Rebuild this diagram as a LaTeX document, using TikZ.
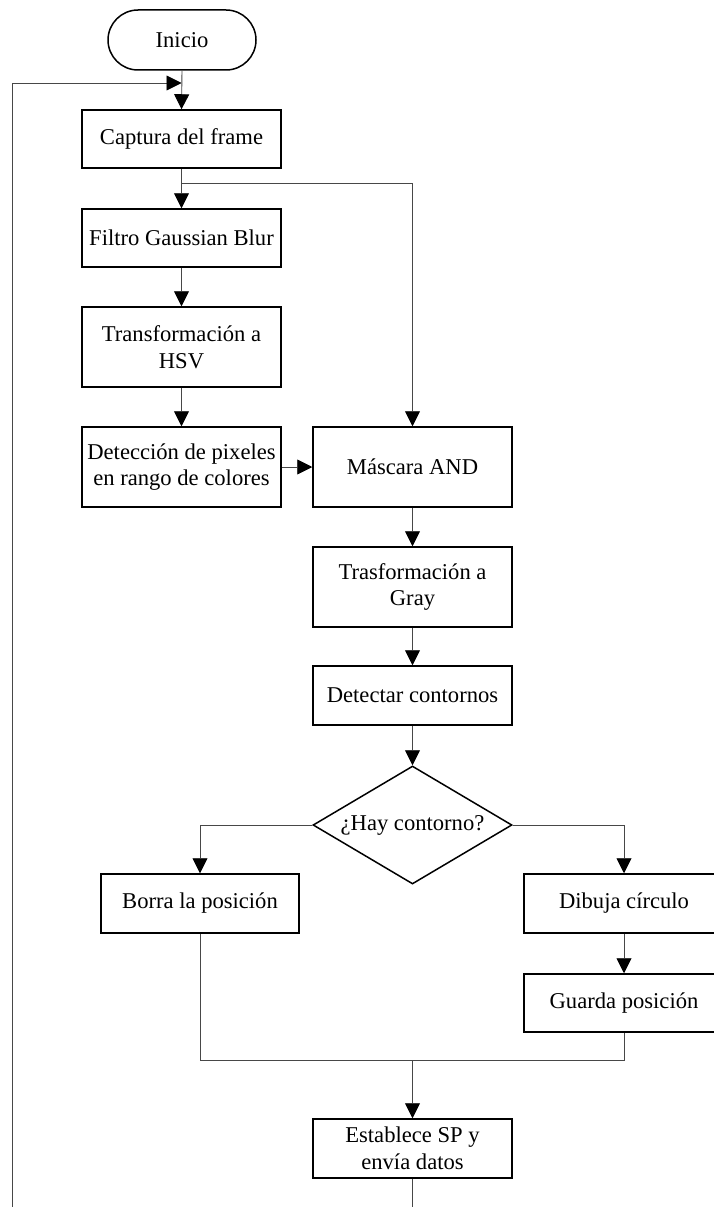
\documentclass[tikz,border=0pt]{standalone}
\usepackage{fontspec}
\setmainfont{Liberation Serif}
\usetikzlibrary{arrows.meta,shapes.geometric}

\tikzset{
  every node/.style={font=\fontsize{22.6}{26.5}\selectfont, align=center, text=black},
  stepbox/.style={draw=black, line width=1.5pt, fill=white, minimum width=199pt, inner sep=0pt},
  termbox/.style={draw=black, line width=1.5pt, fill=white, minimum width=148pt, minimum height=60pt, rounded corners=30pt, inner sep=0pt},
  decbox/.style={draw=black, line width=1.5pt, fill=white, diamond, aspect=1.69, minimum width=199pt, minimum height=118pt, inner sep=0pt},
  flow/.style={draw=black!72, line width=0.9pt},
  flowarrow/.style={flow, -{Triangle[width=15pt,length=15pt,color=black]}},
}

\begin{document}
\begin{tikzpicture}[x=1pt,y=-1pt]
  \clip (0,0) rectangle (714,1207);
  \fill[white] (0,0) rectangle (714,1207);

  % process nodes
  \node[termbox] (inicio) at (182,40) {Inicio};
  \node[stepbox, minimum height=58pt] (captura) at (181.5,139) {Captura del frame};
  \node[stepbox, minimum height=58pt] (filtro) at (181.5,238) {Filtro Gaussian Blur};
  \node[stepbox, minimum height=80pt] (hsv) at (181.5,347) {Transformación a\\HSV};
  \node[stepbox, minimum height=80pt] (deteccion) at (181.5,467) {Detección de pixeles\\en rango de colores};
  \node[stepbox, minimum height=80pt] (mascara) at (412.5,467) {Máscara AND};
  \node[stepbox, minimum height=80pt] (gray) at (412.5,587) {Trasformación a\\Gray};
  \node[stepbox, minimum height=59pt] (contornos) at (412.5,695.5) {Detectar contornos};
  \node[decbox] (hay) at (412.5,825) {¿Hay contorno?};
  \node[stepbox, minimum height=59pt, minimum width=198pt] (borra) at (200,903.5) {Borra la posición};
  \node[stepbox, minimum height=59pt, minimum width=200pt] (dibuja) at (624,903.5) {Dibuja círculo};
  \node[stepbox, minimum height=58pt, minimum width=200pt] (guarda) at (624,1003) {Guarda posición};
  \node[stepbox, minimum height=59pt] (establece) at (412.5,1148.5) {Establece SP y\\envía datos};

  % junction points
  \coordinate (loopin) at (181.5,83);
  \coordinate (split) at (181.5,183);
  \coordinate (merge) at (412.5,1060);

  % main sequence
  \draw[flowarrow] (inicio.south) -- (captura.north);
  \draw[flowarrow] (captura.south) -- (filtro.north);
  \draw[flowarrow] (split) -| (mascara.north);
  \draw[flowarrow] (filtro.south) -- (hsv.north);
  \draw[flowarrow] (hsv.south) -- (deteccion.north);
  \draw[flowarrow] (deteccion.east) -- (mascara.west);
  \draw[flowarrow] (mascara.south) -- (gray.north);
  \draw[flowarrow] (gray.south) -- (contornos.north);
  \draw[flowarrow] (contornos.south) -- (hay.north);

  % decision branches
  \draw[flowarrow] (hay.west) -| (borra.north);
  \draw[flowarrow] (hay.east) -| (dibuja.north);
  \draw[flowarrow] (dibuja.south) -- (guarda.north);

  % join and output
  \draw[flow] (borra.south) |- (merge) -| (guarda.south);
  \draw[flowarrow] (merge) -- (establece.north);

  % loop back to the frame capture
  \draw[flowarrow] (establece.south) -- ++(0,80) -| (12,83) -- (loopin);
\end{tikzpicture}
\end{document}
